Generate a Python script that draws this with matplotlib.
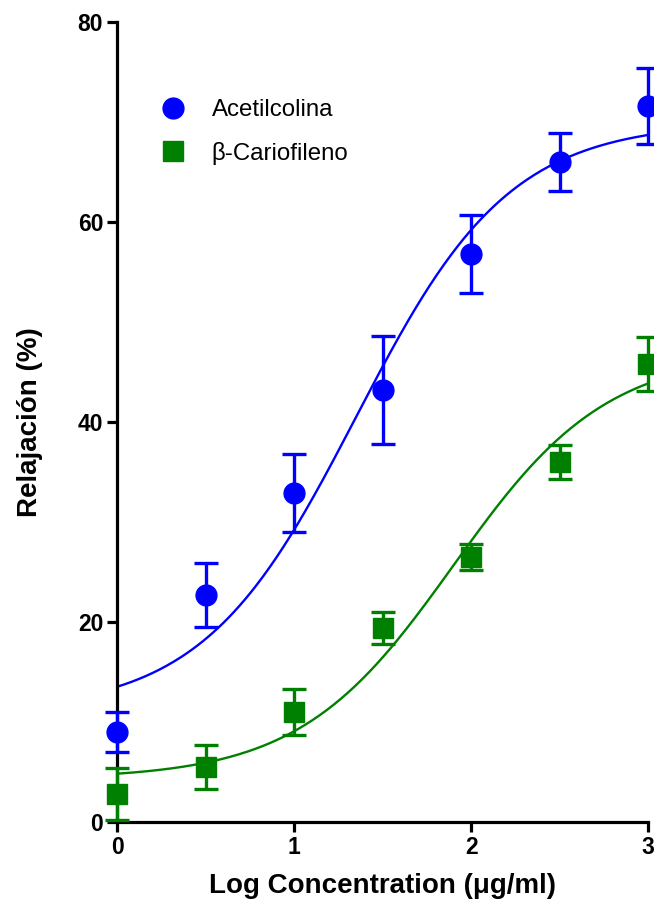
import numpy as np
import matplotlib
matplotlib.use("Agg")
import matplotlib.pyplot as plt
from matplotlib.lines import Line2D

plt.rcParams['font.family'] = ['Liberation Sans', 'DejaVu Sans']

# data
log_conc = [0, 0.5, 1, 1.5, 2, 2.5, 3]

ach_mean = [9.0, 22.7, 32.9, 43.2, 56.8, 66.0, 71.6]
ach_err = [2.0, 3.2, 3.9, 5.4, 3.9, 2.9, 3.8]

bcp_mean = [2.8, 5.5, 11.0, 19.4, 26.5, 36.0, 45.8]
bcp_err = [2.6, 2.2, 2.3, 1.6, 1.3, 1.7, 2.7]

# sigmoid fit parameters (bottom, top, logEC50, hill)
ach_fit = [11.0, 70.0, 1.35, 1.0]
bcp_fit = [4.3, 47.0, 1.9, 1.0]

blue = '#0000ff'
green = '#008000'


def sigmoid(x, bottom, top, logec50, hill):
    return bottom + (top - bottom) / (1 + 10 ** ((logec50 - x) * hill))


fig = plt.figure(figsize=(6.54, 9.07), dpi=100)
ax = fig.add_axes([0.179, 0.0937, 0.812, 0.882])

xx = np.linspace(0, 3, 300)
ax.plot(xx, sigmoid(xx, *ach_fit), color=blue, lw=1.7, zorder=2)
ax.plot(xx, sigmoid(xx, *bcp_fit), color=green, lw=1.7, zorder=2)

for mean, err, col, mk, ms in [(ach_mean, ach_err, blue, 'o', 15),
                                (bcp_mean, bcp_err, green, 's', 14.5)]:
    ax.errorbar(log_conc, mean, yerr=err, fmt='none', ecolor=col,
                elinewidth=2.4, capsize=8.5, capthick=2.4, zorder=3, clip_on=False)
    ax.plot(log_conc, mean, linestyle='none', marker=mk, ms=ms, color=col,
            mec=col, zorder=4, clip_on=False)

ax.set_xlim(0, 3)
ax.set_ylim(0, 80)
ax.set_xticks([0, 1, 2, 3])
ax.set_yticks([0, 20, 40, 60, 80])

for s in ['top', 'right']:
    ax.spines[s].set_visible(False)
for s in ['left', 'bottom']:
    ax.spines[s].set_linewidth(2.3)
ax.tick_params(width=2.3, length=7, labelsize=16.5, pad=3)
for lab in ax.get_xticklabels() + ax.get_yticklabels():
    lab.set_fontweight('bold')

ax.set_xlabel('Log Concentration (\u03bcg/ml)', fontsize=20, fontweight='bold', labelpad=10)
ax.set_ylabel('Relajaci\u00f3n (%)', fontsize=20, fontweight='bold', labelpad=25)

handles = [Line2D([], [], linestyle='none', marker='o', ms=15, color=blue),
           Line2D([], [], linestyle='none', marker='s', ms=14.5, color=green)]
ax.legend(handles, ['Acetilcolina', '\u03b2-Cariofileno'], loc='upper left',
          bbox_to_anchor=(0.042, 0.9156), frameon=False, fontsize=17.3,
          handletextpad=0.6, labelspacing=0.85, borderaxespad=0)

fig.savefig('out.png', dpi=100)
